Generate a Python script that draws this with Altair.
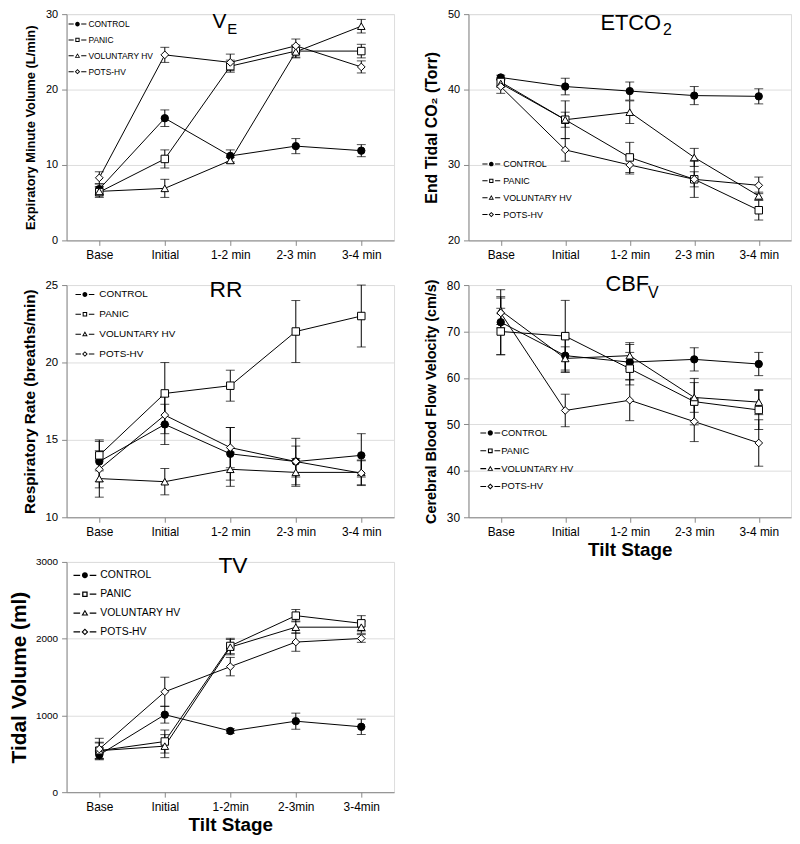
import altair as alt
import pandas as pd

FONT = "Liberation Sans"

STAGES = ["Base", "Initial", "1-2 min", "2-3 min", "3-4 min"]
TV_STAGES = ["Base", "Initial", "1-2min", "2-3min", "3-4min"]
SERIES = ["CONTROL", "PANIC", "VOLUNTARY HV", "POTS-HV"]

# ---- Expiratory minute volume (L/min)
ve_control = [6.8, 16.2, 11.2, 12.5, 11.9]
ve_panic = [6.4, 10.8, 23.1, 25.1, 25.1]
ve_vhv = [6.5, 6.9, 10.6, 25.0, 28.4]
ve_pots = [8.3, 24.6, 23.6, 25.8, 23.0]
ve_control_se = [0.7, 1.1, 0.8, 1.0, 0.8]
ve_panic_se = [0.7, 1.2, 0.8, 0.8, 0.9]
ve_vhv_se = [0.6, 1.2, 0.4, 0.8, 0.9]
ve_pots_se = [0.8, 1.0, 1.1, 0.9, 0.8]

# ---- End tidal CO2 (Torr)
et_control = [41.6, 40.4, 39.8, 39.2, 39.1]
et_panic = [41.0, 36.0, 31.0, 28.1, 24.0]
et_vhv = [40.8, 36.0, 37.0, 31.0, 25.9]
et_pots = [40.4, 32.0, 30.0, 28.1, 27.3]
et_control_se = [0.3, 1.1, 1.2, 1.2, 1.0]
et_panic_se = [0.5, 2.5, 2.0, 2.4, 1.3]
et_vhv_se = [0.5, 1.0, 1.5, 1.2, 0.5]
et_pots_se = [0.9, 1.5, 1.2, 1.0, 1.1]

# ---- Respiratory rate (breaths/min)
rr_control = [13.6, 16.0, 14.1, 13.6, 14.0]
rr_panic = [14.0, 18.0, 18.5, 22.0, 23.0]
rr_vhv = [12.5, 12.3, 13.1, 12.9, 12.9]
rr_pots = [13.1, 16.6, 14.5, 13.6, 12.85]
rr_control_se = [1.3, 1.3, 1.7, 1.5, 1.4]
rr_panic_se = [1.0, 2.0, 1.0, 2.0, 2.0]
rr_vhv_se = [1.2, 0.85, 1.1, 0.9, 0.8]
rr_pots_se = [1.2, 1.2, 1.3, 1.0, 0.8]

# ---- Cerebral blood flow velocity (cm/s)
cb_control = [72.0, 64.8, 63.4, 64.0, 63.0]
cb_panic = [70.0, 69.0, 62.0, 54.9, 53.1]
cb_vhv = [74.5, 64.2, 64.8, 55.8, 54.8]
cb_pots = [74.0, 53.0, 55.2, 50.6, 46.0]
cb_control_se = [7.0, 3.6, 3.8, 2.5, 2.5]
cb_panic_se = [5.0, 7.7, 3.5, 5.0, 4.2]
cb_vhv_se = [3.0, 2.5, 2.8, 3.2, 2.7]
cb_pots_se = [3.2, 3.5, 4.4, 4.3, 5.0]

# ---- Tidal volume (ml)
tv_control = [486, 1010, 797, 925, 852]
tv_panic = [541, 660, 1905, 2300, 2200]
tv_vhv = [541, 600, 1890, 2150, 2150]
tv_pots = [562, 1308, 1636, 1956, 2003]
tv_control_se = [50, 110, 30, 105, 100]
tv_panic_se = [110, 150, 100, 80, 100]
tv_vhv_se = [100, 150, 100, 80, 80]
tv_pots_se = [140, 190, 120, 120, 50]

MARKERS = ["circle", "square", "triangle-up", "diamond"]
MARKER_SIZES = [55, 60, 75, 100]
FILLS = ["black", "white", "white", "white"]
# legend glyphs "-o-": filled outlines (rings) so that they need fill only
DASHES = "M-1,-0.055H-0.42V0.055H-1ZM0.42,-0.055H1V0.055H0.42Z"
LEGEND_PATHS = [
    DASHES + "M-0.26,0A0.26,0.26 0 1,1 0.26,0A0.26,0.26 0 1,1 -0.26,0Z",
    DASHES + "M-0.24,-0.24H0.24V0.24H-0.24ZM-0.13,-0.13V0.13H0.13V-0.13Z",
    DASHES + "M0,-0.3L0.3,0.22H-0.3ZM0,-0.109L-0.135,0.125H0.135Z",
    DASHES + "M0,-0.3L0.3,0L0,0.3L-0.3,0ZM0,-0.16L-0.16,0L0,0.16L0.16,0Z",
]


def make_df(stages, means, errs):
    rows = []
    for s, ml, el in zip(SERIES, means, errs):
        for i, (st, m, e) in enumerate(zip(stages, ml, el)):
            rows.append(dict(series=s, stage=st, idx=i, mean=m, lo=m - e, hi=m + e))
    return pd.DataFrame(rows)


def panel(stages, means, errs, ydom, yticks, ytitle, ytitle_size, ylabel_size,
          width, height, titles, leg, xtitle=None, ytitle_pad=8):
    df = make_df(stages, means, errs)
    xaxis_kw = dict(labelAngle=0, labelFontSize=12, labelPadding=4, tickSize=5)
    if xtitle:
        xaxis_kw.update(title=xtitle, titleFontSize=19, titlePadding=4)
    else:
        xaxis_kw.update(title=None)
    x = alt.X("stage:N", sort=stages,
              scale=alt.Scale(type="point", domain=stages, padding=0.5),
              axis=alt.Axis(**xaxis_kw))

    def ych(field):
        return alt.Y(field, type="quantitative",
                     scale=alt.Scale(domain=ydom, nice=False, zero=False),
                     axis=alt.Axis(values=yticks, format="d", title=ytitle,
                                   titleFontSize=ytitle_size, labelFontSize=ylabel_size,
                                   labelPadding=4, titlePadding=ytitle_pad, tickSize=5))

    base = alt.Chart(df)
    lines = base.mark_line(color="black", strokeWidth=1).encode(
        x=x, y=ych("mean"), detail="series:N", order=alt.Order("idx:Q"))
    rules = base.mark_rule(color="black", strokeWidth=1).encode(
        x=x, y=ych("lo"), y2="hi:Q")
    tick_lo = base.mark_tick(color="black", size=9, thickness=1, orient="horizontal").encode(
        x=x, y=ych("lo"))
    tick_hi = base.mark_tick(color="black", size=9, thickness=1, orient="horizontal").encode(
        x=x, y=ych("hi"))
    pts = base.mark_point(stroke="black", strokeWidth=1, opacity=1).encode(
        x=x, y=ych("mean"),
        shape=alt.Shape("series:N", scale=alt.Scale(domain=SERIES, range=MARKERS), legend=None),
        fill=alt.Fill("series:N", scale=alt.Scale(domain=SERIES, range=FILLS), legend=None),
        size=alt.Size("series:N", scale=alt.Scale(domain=SERIES, range=MARKER_SIZES), legend=None),
    )
    leg_kw = dict(orient="none", legendX=leg["x"], legendY=leg["y"], title=None,
                  symbolSize=leg["size"], symbolStrokeWidth=0, symbolFillColor="black",
                  symbolOpacity=1, labelFont=FONT,
                  labelFontSize=leg["font"], labelColor="black", rowPadding=leg["rowpad"],
                  labelOffset=leg["offset"], padding=0, labelFontWeight="normal")
    legend_layer = base.transform_filter("false").mark_point(
        filled=True, color="black").encode(
        shape=alt.Shape("series:N", scale=alt.Scale(domain=SERIES, range=LEGEND_PATHS),
                        legend=alt.Legend(**leg_kw)),
    )
    texts = []
    for t in titles:
        texts.append(
            alt.Chart(pd.DataFrame({"t": [t["text"]]})).mark_text(
                font=FONT, fontSize=t["size"], align="left", baseline="alphabetic",
                color="black").encode(x=alt.value(t["x"]), y=alt.value(t["y"]), text="t:N"))
    return alt.layer(lines, rules, tick_lo, tick_hi, pts, legend_layer, *texts).resolve_scale(
        shape="independent", fill="independent", size="independent"
    ).properties(width=width, height=height)


LW, RW = 330, 325
H1, H2, H3 = 228, 234, 232

ve = panel(STAGES, [ve_control, ve_panic, ve_vhv, ve_pots],
           [ve_control_se, ve_panic_se, ve_vhv_se, ve_pots_se],
           [0, 30], [0, 10, 20, 30], "Expiratory Minute Volume (L/min)", 13, 11,
           LW, H1,
           [dict(text="V", x=147, y=14, size=21), dict(text="E", x=162, y=20, size=15)],
           dict(x=2, y=1, size=324, font=8.5, rowpad=2, offset=2))

et = panel(STAGES, [et_control, et_panic, et_vhv, et_pots],
           [et_control_se, et_panic_se, et_vhv_se, et_pots_se],
           [20, 50], [20, 30, 40, 50], "End Tidal CO\u2082 (Torr)", 16, 11,
           RW, H1,
           [dict(text="ETCO", x=133, y=16, size=22), dict(text="2", x=196, y=21, size=16)],
           dict(x=14, y=142, size=324, font=9, rowpad=3, offset=3))

rr = panel(STAGES, [rr_control, rr_panic, rr_vhv, rr_pots],
           [rr_control_se, rr_panic_se, rr_vhv_se, rr_pots_se],
           [10, 25], [10, 15, 20, 25], "Respiratory Rate (breaths/min)", 15.5, 11.5,
           LW, H2,
           [dict(text="RR", x=144, y=12, size=23)],
           dict(x=9, y=0, size=361, font=10, rowpad=5, offset=5))

cb = panel(STAGES, [cb_control, cb_panic, cb_vhv, cb_pots],
           [cb_control_se, cb_panic_se, cb_vhv_se, cb_pots_se],
           [30, 80], [30, 40, 50, 60, 70, 80], "Cerebral Blood Flow Velocity (cm/s)", 14.5, 12,
           RW, H2,
           [dict(text="CBF", x=138, y=6, size=22), dict(text="V", x=181, y=13, size=16)],
           dict(x=12, y=139, size=400, font=9.5, rowpad=3, offset=1),
           xtitle="Tilt Stage")

tv = panel(TV_STAGES, [tv_control, tv_panic, tv_vhv, tv_pots],
           [tv_control_se, tv_panic_se, tv_vhv_se, tv_pots_se],
           [0, 3000], [0, 1000, 2000, 3000], "Tidal Volume (ml)", 21, 10,
           LW, H3,
           [dict(text="TV", x=153, y=11, size=23)],
           dict(x=7, y=2, size=529, font=10.5, rowpad=2, offset=4),
           xtitle="Tilt Stage", ytitle_pad=6)

chart = alt.concat(ve, et, rr, cb, tv, columns=2,
                   spacing={"row": 45, "column": 75}, bounds="flush").properties(
    padding={"left": 0, "top": -4, "right": 0, "bottom": 0},
).configure_view(stroke=None).configure_axis(
    grid=False, domainColor="black", domainWidth=1.5, tickColor="black", tickWidth=1,
    labelFont=FONT, titleFont=FONT, labelFontWeight="bold", titleFontWeight="bold",
    labelColor="black", titleColor="black"
).configure(background="white")

chart.save("out.html", embed_options={"renderer": "svg", "actions": False})
